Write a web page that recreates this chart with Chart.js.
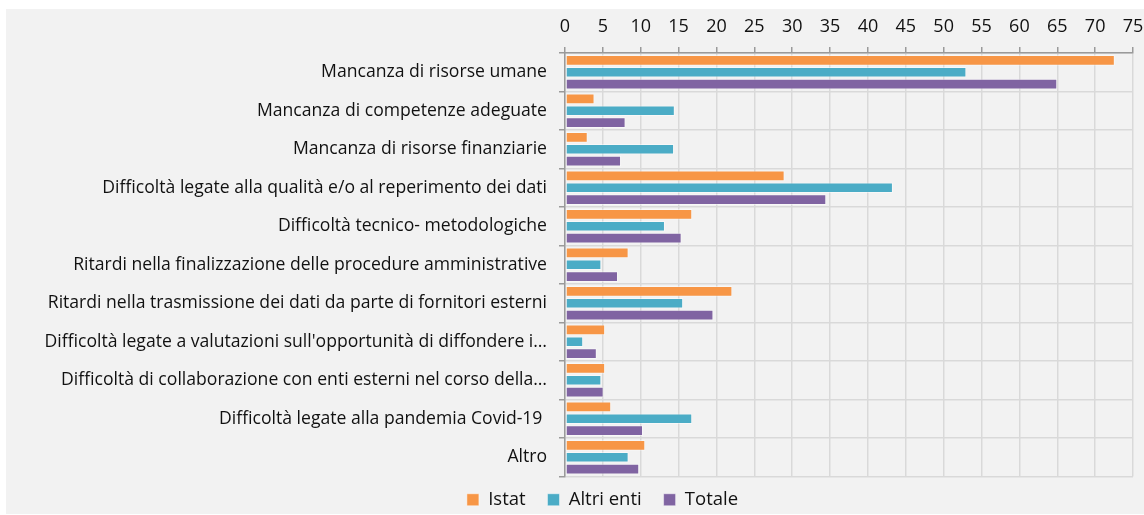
<!DOCTYPE html>
<html>
<head>
<meta charset="utf-8">
<script src="https://cdn.jsdelivr.net/npm/chart.js@4/dist/chart.umd.min.js"></script>
<style>
  html, body { margin: 0; padding: 0; background: #ffffff; overflow: hidden; width: 1144px; height: 515px; }
  #bg { position: absolute; left: 6px; top: 9px; width: 1138px; height: 505px; background: #f2f2f2; }
  #c { position: absolute; left: 6px; top: 9px; display: block; }
</style>
</head>
<body>
<div id="bg"></div>
<canvas id="c" width="1138" height="510"></canvas>
<script>
const categories = [
  "Mancanza di risorse umane",
  "Mancanza di competenze adeguate",
  "Mancanza di risorse finanziarie",
  "Difficoltà legate alla qualità e/o al reperimento dei dati",
  "Difficoltà tecnico- metodologiche",
  "Ritardi nella finalizzazione delle procedure amministrative",
  "Ritardi nella trasmissione dei dati da parte di fornitori esterni",
  "Difficoltà legate a valutazioni sull'opportunità di diffondere i…",
  "Difficoltà di collaborazione con enti esterni nel corso della…",
  "Difficoltà legate alla pandemia Covid-19 ",
  "Altro"
];
const istat     = [72.6, 3.9, 3.0, 29.0, 16.8, 8.4, 22.1, 5.3, 5.3, 6.1, 10.6];
const altriEnti = [53.0, 14.5, 14.4, 43.3, 13.2, 4.8, 15.6, 2.4, 4.8, 16.8, 8.4];
const totale    = [65.0, 8.0, 7.4, 34.5, 15.4, 7.0, 19.6, 4.2, 5.1, 10.3, 9.8];
const seriesNames = ["Istat", "Altri enti", "Totale"];
const axisMin = 0, axisMax = 75, axisStep = 5;

const FONT = "'Open Sans', sans-serif";
const colors = ["#F79646", "#4BACC6", "#8064A2"];

const legendShift = {
  id: "legendShift",
  afterLayout(chart) {
    if (chart.legend) { chart.legend.left += 55; }
  }
};

new Chart(document.getElementById("c"), {
  type: "bar",
  data: {
    labels: categories,
    datasets: [istat, altriEnti, totale].map((d, i) => ({
      label: seriesNames[i],
      data: d,
      backgroundColor: colors[i],
      borderColor: "rgba(255,255,255,0.45)",
      borderWidth: 1,
      borderSkipped: false,
      categoryPercentage: 0.93,
      barPercentage: 0.89
    }))
  },
  plugins: [legendShift],
  options: {
    indexAxis: "y",
    responsive: false,
    animation: false,
    layout: { padding: { left: 0, right: 0, top: 0, bottom: 0 } },
    scales: {
      x: {
        position: "top",
        min: axisMin, max: axisMax,
        ticks: { stepSize: axisStep, color: "#111", font: { family: FONT, size: 18 }, padding: 9 },
        grid: { color: "#d9d9d9", lineWidth: 1.5, tickColor: "#9a9a9a", tickLength: 6 },
        border: { color: "#9a9a9a", width: 1.5 },
        afterFit: (s) => { s.height = 44; s.paddingLeft = 0; s.paddingRight = 11; }
      },
      y: {
        ticks: { color: "#111", font: { family: FONT, size: 17.6 }, padding: 12, autoSkip: false },
        grid: { color: "#d9d9d9", lineWidth: 1.5, tickColor: "#9a9a9a", tickLength: 6, offset: true },
        border: { color: "#9a9a9a", width: 1.5 },
        afterFit: (s) => { s.width = 559; }
      }
    },
    plugins: {
      legend: {
        position: "bottom",
        labels: {
          color: "#111", font: { family: FONT, size: 18.5 }, boxWidth: 12, boxHeight: 12, padding: 14,
          generateLabels: (chart) => {
            const items = Chart.defaults.plugins.legend.labels.generateLabels(chart);
            items.forEach((it, i) => { if (i < items.length - 1) it.text = it.text + " \u2009"; });
            return items;
          }
        }
      },
      tooltip: { enabled: false }
    }
  }
});
</script>
</body>
</html>
